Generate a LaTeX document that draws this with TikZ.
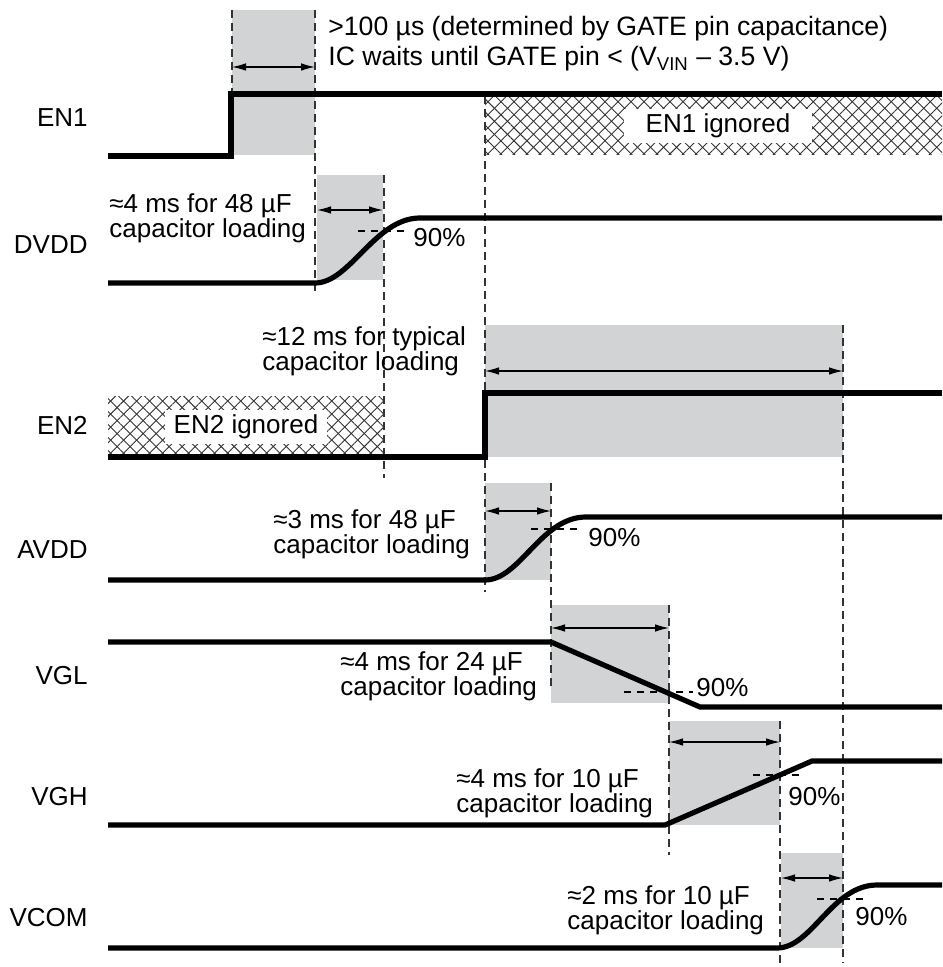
\documentclass[tikz,border=0pt]{standalone}
\usepackage{fontspec}
\setmainfont{Liberation Sans}
\usetikzlibrary{arrows.meta,patterns.meta}
\definecolor{boxgray}{RGB}{209,211,212}

\begin{document}
\begin{tikzpicture}[x=0.5pt,y=-0.5pt,
	sig/.style={line width=2.6pt},
	guide/.style={line width=0.6pt, dash pattern=on 4pt off 2.5pt, black!80},
	slot/.style={fill=boxgray},
	dimarr/.style={line width=0.6pt, {Latex[length=7pt,width=3.8pt]}-{Latex[length=7pt,width=3.8pt]}},
	lvl/.style={line width=0.55pt, dash pattern=on 3.5pt off 3pt},
	note/.style={align=left, anchor=west, inner sep=0pt, font=\fontsize{13}{12.5}\selectfont},
	pct/.style={anchor=west, inner sep=0pt, font=\fontsize{13}{13}\selectfont},
	sname/.style={anchor=east, inner sep=0pt, font=\fontsize{13}{13}\selectfont},
	hatchA/.style={pattern={Lines[angle=45,distance=4.6pt,line width=0.45pt]}, pattern color=black!80},
	hatchB/.style={pattern={Lines[angle=-45,distance=4.6pt,line width=0.45pt]}, pattern color=black!80},
	blank/.style={fill=white, inner ysep=2.5pt, font=\fontsize{13}{13}\selectfont}]
	\def\xbeg{108}
	\def\xend{942}

	\useasboundingbox (0,0) rectangle (942,967);

	\fill[slot] (232,10) rectangle (315,155);
	\fill[slot] (317,175) rectangle (383,280);
	\fill[slot] (485,325) rectangle (843,457);
	\fill[slot] (485,483) rectangle (551,580);
	\fill[slot] (551,605) rectangle (669,703);
	\fill[slot] (669,721) rectangle (780,825);
	\fill[slot] (781,853) rectangle (843,948);

	\fill[hatchA] (485,96) rectangle (\xend,155);
	\fill[hatchB] (485,96) rectangle (\xend,155);
	\fill[hatchA] (\xbeg,396) rectangle (384,455);
	\fill[hatchB] (\xbeg,396) rectangle (384,455);
	\node[blank, inner xsep=11pt] (en1ign) at (718,126) {EN1 ignored};
	\node[blank, inner xsep=4.5pt] (en2ign) at (246,427) {EN2 ignored};

	\draw[guide] (232,10) -- (232,94);
	\draw[guide] (315,10) -- (315,294);
	\draw[guide] (384,175) -- (384,478);
	\draw[guide] (485,96) -- (485,592);
	\draw[guide] (551,483) -- (551,690);
	\draw[guide] (669,605) -- (669,855);
	\draw[guide] (780,721) -- (780,963);
	\draw[guide] (843,325) -- (843,963);

	\draw[dimarr] (232,67) -- (315,67);
	\draw[dimarr] (317,210) -- (383,210);
	\draw[dimarr] (485,371) -- (843,371);
	\draw[dimarr] (485,511) -- (551,511);
	\draw[dimarr] (551,628) -- (669,628);
	\draw[dimarr] (669,742) -- (780,742);
	\draw[dimarr] (781,878) -- (843,878);

	\draw[lvl] (358,231) -- (405,231);
	\draw[lvl] (531,529) -- (579,529);
	\draw[lvl] (624,692) -- (693,692);
	\draw[lvl] (753,775) -- (800,775);
	\draw[lvl] (817,899) -- (867,899);

	\draw[sig] (\xbeg,156) -- (231,156) -- (231,94) -- (\xend,94);
	\draw[sig] (\xbeg,283) -- (315,283) .. controls +(35,0) and +(-45,0) .. (420,218) -- (\xend,218);
	\draw[sig] (\xbeg,457) -- (485,457) -- (485,393) -- (\xend,393);
	\draw[sig] (\xbeg,580) -- (485,580) .. controls +(35,0) and +(-45,0) .. (586,517) -- (\xend,517);
	\draw[sig] (\xbeg,642) -- (551,642) -- (700,707) -- (\xend,707);
	\draw[sig] (\xbeg,825) -- (665,825) -- (812,761) -- (\xend,761);
	\draw[sig] (\xbeg,948) -- (777,948) .. controls +(35,0) and +(-45,0) .. (877,885) -- (\xend,885);

	\node[sname] (en1) at (88,118) {EN1};
	\node[sname] (dvdd) at (88,245) {DVDD};
	\node[sname] (en2) at (88,425) {EN2};
	\node[sname] (avdd) at (88,550) {AVDD};
	\node[sname] (vgl) at (88,676) {VGL};
	\node[sname] (vgh) at (88,797) {VGH};
	\node[sname] (vcom) at (88,918) {VCOM};

	\node[note, font=\fontsize{13.3}{15}\selectfont] (gate) at (328,44) {>100 µs (determined by GATE pin capacitance)\\IC waits until GATE pin < (V\textsubscript{VIN} – 3.5 V)};
	\node[note] (tdvdd) at (109,218) {≈4 ms for 48 µF\\capacitor loading};
	\node[note] (ten2) at (262,351) {≈12 ms for typical\\capacitor loading};
	\node[note] (tavdd) at (273,534) {≈3 ms for 48 µF\\capacitor loading};
	\node[note] (tvgl) at (340,676) {≈4 ms for 24 µF\\capacitor loading};
	\node[note] (tvgh) at (456,793) {≈4 ms for 10 µF\\capacitor loading};
	\node[note] (tvcom) at (567,910) {≈2 ms for 10 µF\\capacitor loading};

	\node[pct] (pdvdd) at (413,238) {90\%};
	\node[pct] (pavdd) at (588,538) {90\%};
	\node[pct] (pvgl) at (696,688) {90\%};
	\node[pct] (pvgh) at (788,797) {90\%};
	\node[pct] (pvcom) at (855,917) {90\%};
\end{tikzpicture}
\end{document}
